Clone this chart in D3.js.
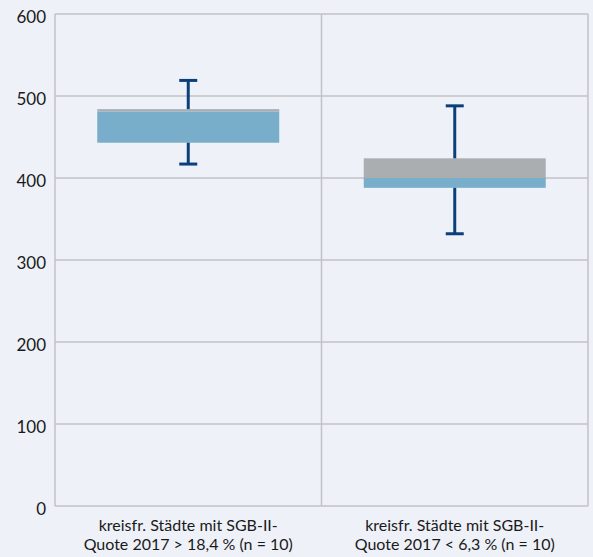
<!DOCTYPE html>
<html>
<head>
<meta charset="utf-8">
<script src="https://cdn.jsdelivr.net/npm/d3@7"></script>
<style>
  html, body { margin: 0; padding: 0; background: #eef1f8; }
  svg { display: block; font-family: Lato, "Open Sans", sans-serif; }
</style>
</head>
<body>
<svg id="chart" width="593" height="557"></svg>
<script>
const categories = [
  ['kreisfr. Städte mit SGB-II-', 'Quote 2017 > 18,4 % (n = 10)'],
  ['kreisfr. Städte mit SGB-II-', 'Quote 2017 < 6,3 % (n = 10)']
];
const minValues = [417, 332];
const q1Values = [443, 388];
const medianValues = [481, 400];
const q3Values = [484, 424];
const maxValues = [519, 488];
const yTicks = [0, 100, 200, 300, 400, 500, 600];

const width = 593, height = 557;
const margin = {top: 14, right: 5, bottom: 51, left: 55};
const chartWidth = width - margin.left - margin.right;
const chartHeight = height - margin.top - margin.bottom;

const svg = d3.select('#chart');
svg.append('rect').attr('width', width).attr('height', height).attr('fill', '#eef1f8');

const g = svg.append('g').attr('transform', `translate(${margin.left},${margin.top})`);

// Scales
const x = d3.scaleBand().domain(d3.range(categories.length)).range([0, chartWidth]);
const y = d3.scaleLinear().domain([0, 600]).range([chartHeight, 0]);

const gridColor = '#c0c2c6';

// Horizontal grid lines
g.append('g')
  .selectAll('line')
  .data(yTicks)
  .enter()
  .append('line')
  .attr('x1', 0)
  .attr('x2', chartWidth)
  .attr('y1', d => y(d))
  .attr('y2', d => y(d))
  .attr('stroke', gridColor)
  .attr('stroke-width', 1.5);

// Vertical lines: left axis, category separators, right edge
const vLines = d3.range(categories.length + 1).map(i => i === categories.length ? chartWidth : x(i));
g.append('g')
  .selectAll('line')
  .data(vLines)
  .enter()
  .append('line')
  .attr('x1', d => d)
  .attr('x2', d => d)
  .attr('y1', 0)
  .attr('y2', chartHeight)
  .attr('stroke', gridColor)
  .attr('stroke-width', 1.5);

// Y labels
g.append('g')
  .selectAll('text')
  .data(yTicks)
  .enter()
  .append('text')
  .attr('x', -9)
  .attr('y', d => y(d) + 3)
  .attr('dy', '0.35em')
  .attr('text-anchor', 'end')
  .attr('font-size', '17px')
  .attr('fill', '#1a1a1a')
  .text(d => d);

// Boxes
const boxWidth = 182;
const idx = d3.range(categories.length);
const cx = i => x(i) + x.bandwidth() / 2;

const boxes = g.append('g');
// Upper part (median to Q3)
boxes.selectAll('rect.upper')
  .data(idx)
  .enter()
  .append('rect')
  .attr('class', 'upper')
  .attr('x', i => cx(i) - boxWidth / 2)
  .attr('width', boxWidth)
  .attr('y', i => y(q3Values[i]))
  .attr('height', i => y(medianValues[i]) - y(q3Values[i]))
  .attr('fill', '#abaeb1');
// Lower part (Q1 to median)
boxes.selectAll('rect.lower')
  .data(idx)
  .enter()
  .append('rect')
  .attr('class', 'lower')
  .attr('x', i => cx(i) - boxWidth / 2)
  .attr('width', boxWidth)
  .attr('y', i => y(medianValues[i]))
  .attr('height', i => y(q1Values[i]) - y(medianValues[i]))
  .attr('fill', '#79aeca');

// Whiskers
const whiskerColor = '#0b3f7b';
const capWidth = 18;
const whiskers = g.append('g').attr('stroke', whiskerColor).attr('stroke-width', 3);
idx.forEach(i => {
  whiskers.append('line')
    .attr('x1', cx(i)).attr('x2', cx(i))
    .attr('y1', y(maxValues[i])).attr('y2', y(q3Values[i]));
  whiskers.append('line')
    .attr('x1', cx(i)).attr('x2', cx(i))
    .attr('y1', y(q1Values[i])).attr('y2', y(minValues[i]));
  [maxValues[i], minValues[i]].forEach(v => {
    whiskers.append('line')
      .attr('x1', cx(i) - capWidth / 2).attr('x2', cx(i) + capWidth / 2)
      .attr('y1', y(v)).attr('y2', y(v));
  });
});

// Category labels
const labels = g.append('g')
  .selectAll('text')
  .data(idx)
  .enter()
  .append('text')
  .attr('x', i => cx(i))
  .attr('y', chartHeight + 25)
  .attr('text-anchor', 'middle')
  .attr('font-size', '16px')
  .attr('fill', '#1a1a1a');
labels.selectAll('tspan')
  .data(i => categories[i])
  .enter()
  .append('tspan')
  .attr('x', function () { return d3.select(this.parentNode).attr('x'); })
  .attr('dy', (d, j) => j === 0 ? 0 : 19)
  .text(d => d);
</script>
</body>
</html>
